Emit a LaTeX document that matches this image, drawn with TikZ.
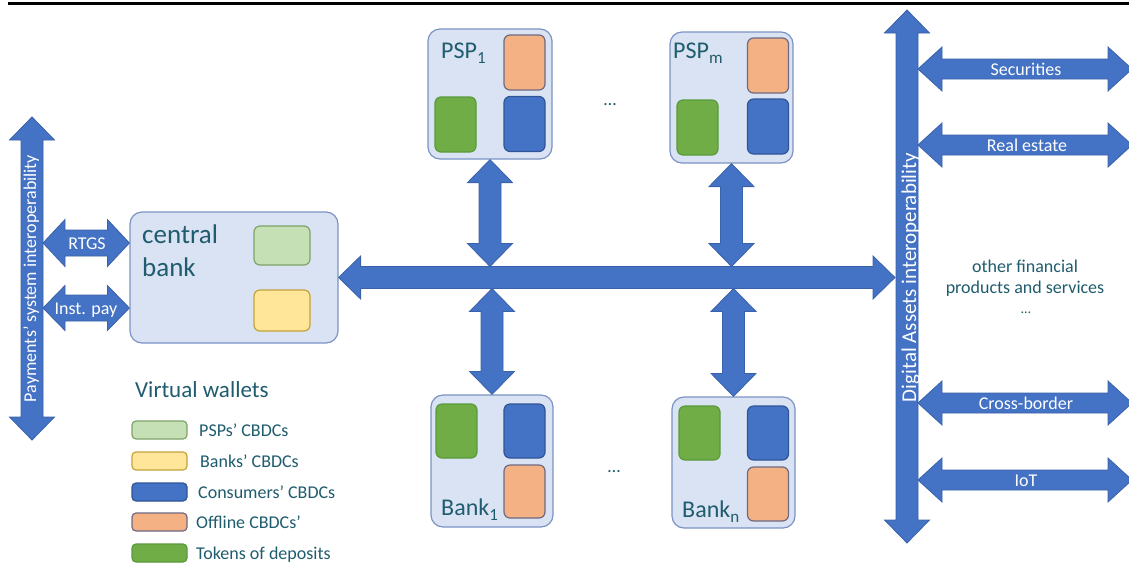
\documentclass[tikz,border=0pt]{standalone}
\usepackage{fontspec}
\setmainfont{Carlito}
\usetikzlibrary{calc}
\definecolor{arrblue}{HTML}{4472C4}
\definecolor{arredge}{HTML}{3A62AA}
\definecolor{boxfill}{HTML}{DAE3F3}
\definecolor{boxedge}{HTML}{7C93C3}
\definecolor{txt}{HTML}{1F5C6E}
\definecolor{lgreen}{HTML}{C5E0B4}
\definecolor{lgreenedge}{HTML}{7FA36A}
\definecolor{yel}{HTML}{FFE699}
\definecolor{yeledge}{HTML}{C4A23A}
\definecolor{orng}{HTML}{F4B183}
\definecolor{orngedge}{HTML}{6E6A82}
\definecolor{grn}{HTML}{70AD47}
\definecolor{grnedge}{HTML}{5A9A3C}
\definecolor{blu}{HTML}{4472C4}
\definecolor{bluedge}{HTML}{2F5597}
% horizontal double block arrow: from, to, half shaft, half head, head length
\newcommand\harr[5]{%
  \draw[arr] let \p1=(#1), \p2=(#2) in
   (\x1,\y1) -- (\x1+#5pt,\y1+#4pt) -- (\x1+#5pt,\y1+#3pt) -- (\x2-#5pt,\y1+#3pt)
   -- (\x2-#5pt,\y1+#4pt) -- (\x2,\y1) -- (\x2-#5pt,\y1-#4pt) -- (\x2-#5pt,\y1-#3pt)
   -- (\x1+#5pt,\y1-#3pt) -- (\x1+#5pt,\y1-#4pt) -- cycle;}
% vertical double block arrow: top, bottom, half shaft, half head, head length
\newcommand\varr[5]{%
  \draw[arr] let \p1=(#1), \p2=(#2) in
   (\x1,\y1) -- (\x1+#4pt,\y1-#5pt) -- (\x1+#3pt,\y1-#5pt) -- (\x1+#3pt,\y2+#5pt)
   -- (\x1+#4pt,\y2+#5pt) -- (\x1,\y2) -- (\x1-#4pt,\y2+#5pt) -- (\x1-#3pt,\y2+#5pt)
   -- (\x1-#3pt,\y1-#5pt) -- (\x1-#4pt,\y1-#5pt) -- cycle;}
\begin{document}
\begin{tikzpicture}[x=1pt,y=-1pt,font=\fontsize{18}{22}\selectfont,
  arr/.style={fill=arrblue,draw=arredge,line width=0.8pt,line join=miter},
  outer/.style={fill=boxfill,draw=boxedge,line width=1.2pt,rounded corners=12pt,inner sep=0pt},
  chip/.style={rounded corners=6pt,line width=1.2pt,inner sep=0pt,minimum width=41pt,minimum height=55pt},
  gchip/.style={chip,fill=grn,draw=grnedge},
  bchip/.style={chip,fill=blu,draw=bluedge},
  ochip/.style={chip,fill=orng,draw=orngedge},
  leg/.style={rounded corners=4pt,line width=1.2pt,inner sep=0pt,minimum width=55pt,minimum height=18pt},
  lbl/.style={text=txt,inner sep=0pt},
  big/.style={lbl,font=\fontsize{24}{28}\selectfont},
  wlbl/.style={text=white,inner sep=0pt,anchor=base}]
\useasboundingbox (0,0) rectangle (1129,579);
\fill[white] (0,0) rectangle (1129,579);
\draw[line width=2.2pt] (8,3.5) coordinate (topL) -- (1129,3.5) coordinate (topR);

% central bank
\node[outer,minimum width=208pt,minimum height=131pt] (cb) at (234,277.5) {};
\node[chip,fill=lgreen,draw=lgreenedge,minimum width=56pt,minimum height=39pt] (cbpsp) at (282,245.5) {};
\node[chip,fill=yel,draw=yeledge,minimum width=56pt,minimum height=41pt] (cbbank) at (282,310.5) {};
\node[lbl,anchor=base west,font=\fontsize{27}{33}\selectfont] (cbt1) at (142,243) {central};
\node[lbl,anchor=base west,font=\fontsize{27}{33}\selectfont] (cbt2) at (142,276) {bank};

% PSPs
\node[outer,minimum width=124pt,minimum height=130pt] (psp1) at (490,94) {};
\node[ochip] (psp1o) at (524.5,62.5) {};
\node[gchip] (psp1g) at (455.5,124.5) {};
\node[bchip] (psp1b) at (524.5,124) {};
\node[big,anchor=base west] (psp1t) at (441,58) {PSP\raisebox{-5pt}{\fontsize{17}{17}\selectfont 1}};

\node[outer,minimum width=123pt,minimum height=131pt] (pspm) at (731.5,97.5) {};
\node[ochip] (pspmo) at (768,65.5) {};
\node[gchip] (pspmg) at (697.5,127.5) {};
\node[bchip] (pspmb) at (768,126.5) {};
\node[big,anchor=base west] (pspmt) at (673,58) {PSP\raisebox{-5pt}{\fontsize{17}{17}\selectfont m}};

% Banks
\node[outer,minimum width=122pt,minimum height=132pt] (bank1) at (492,461) {};
\node[gchip,minimum height=54pt] (bank1g) at (456.5,431) {};
\node[bchip,minimum height=54pt] (bank1b) at (524.5,431) {};
\node[ochip,minimum height=53pt] (bank1o) at (524.5,491.5) {};
\node[big,anchor=base west] (bank1t) at (441,515) {Bank\raisebox{-5pt}{\fontsize{17}{17}\selectfont 1}};

\node[outer,minimum width=123pt,minimum height=131pt] (bankn) at (733.5,462.5) {};
\node[gchip,minimum height=54pt] (bankng) at (699.5,433) {};
\node[bchip,minimum height=54pt] (banknb) at (768,433) {};
\node[ochip,minimum height=54pt] (bankno) at (768,494) {};
\node[big,anchor=base west] (banknt) at (682,517) {Bank\raisebox{-5pt}{\fontsize{17}{17}\selectfont n}};

\node[lbl,anchor=base] (dots1) at (610,105) {\dots};
\node[lbl,anchor=base] (dots2) at (614,472) {\dots};

% left payments arrow
\coordinate (psT) at (32,117);
\coordinate (psB) at (32,440);
\varr{psT}{psB}{11}{22.5}{23}
\node[wlbl,rotate=90] (pst) at (36,278.5) {Payments’ system interoperability};

\coordinate (rtL) at (43,243);
\harr{rtL}{cb.west |- rtL}{13}{23.5}{22}
\node[wlbl] (rtt) at (87,249) {RTGS};
\coordinate (ipL) at (43,308);
\harr{ipL}{cb.west |- ipL}{13}{22.5}{22}
\node[wlbl] (ipt) at (86,314) {Inst. pay};

% bus
\coordinate (busR) at (895,277.5);
\harr{cb.east}{busR}{11}{21.5}{22}
\coordinate (busTop) at (0,266.5);
\coordinate (busBot) at (0,288.5);
\varr{psp1.south}{psp1.south |- busTop}{11}{22.5}{23}
\varr{pspm.south}{pspm.south |- busTop}{11}{22.5}{23}
\varr{bank1.north |- busBot}{bank1.north}{11}{22.5}{23}
\varr{bankn.north |- busBot}{bankn.north}{11}{22.5}{23}

% digital assets arrow
\coordinate (daT) at (907,10);
\coordinate (daB) at (907,543);
\varr{daT}{daB}{11}{22.5}{23}
\node[wlbl,rotate=90,font=\fontsize{21}{24}\selectfont] (dat) at (916,277.5) {Digital Assets interoperability};

\coordinate (secL) at (918,69);  \coordinate (secR) at (1132,69);
\harr{secL}{secR}{10}{22}{24}
\node[wlbl] (sect) at (1026,75) {Securities};
\coordinate (reL) at (918,145);  \coordinate (reR) at (1132,145);
\harr{reL}{reR}{10}{22}{24}
\node[wlbl] (ret) at (1027,151) {Real estate};
\coordinate (cbL) at (918,403);  \coordinate (cbR) at (1132,403);
\harr{cbL}{cbR}{10}{22}{24}
\node[wlbl] (cbdt) at (1026,409) {Cross-border};
\coordinate (iotL) at (918,480); \coordinate (iotR) at (1132,480);
\harr{iotL}{iotR}{10}{22}{24}
\node[wlbl] (iott) at (1026,486) {IoT};

\node[lbl,anchor=base] (of1) at (1025,272) {other financial};
\node[lbl,anchor=base] (of2) at (1025,293) {products and services};
\node[lbl,anchor=base,font=\fontsize{14}{16}\selectfont] (of3) at (1026,313) {\dots};

% legend
\node[lbl,anchor=base west,font=\fontsize{23}{28}\selectfont] (vw) at (135,397) {Virtual wallets};
\node[leg,fill=lgreen,draw=lgreenedge] (l1) at (159.5,430) {};
\node[lbl,anchor=base west] (l1t) at (199,436) {PSPs’ CBDCs};
\node[leg,fill=yel,draw=yeledge] (l2) at (159.5,461) {};
\node[lbl,anchor=base west] (l2t) at (200,467) {Banks’ CBDCs};
\node[leg,fill=blu,draw=bluedge] (l3) at (159.5,492) {};
\node[lbl,anchor=base west] (l3t) at (198,498) {Consumers’ CBDCs};
\node[leg,fill=orng,draw=orngedge] (l4) at (159.5,522) {};
\node[lbl,anchor=base west] (l4t) at (196,528) {Offline CBDCs’};
\node[leg,fill=grn,draw=grnedge] (l5) at (159.5,553) {};
\node[lbl,anchor=base west] (l5t) at (196,559) {Tokens of deposits};
\end{tikzpicture}
\end{document}
